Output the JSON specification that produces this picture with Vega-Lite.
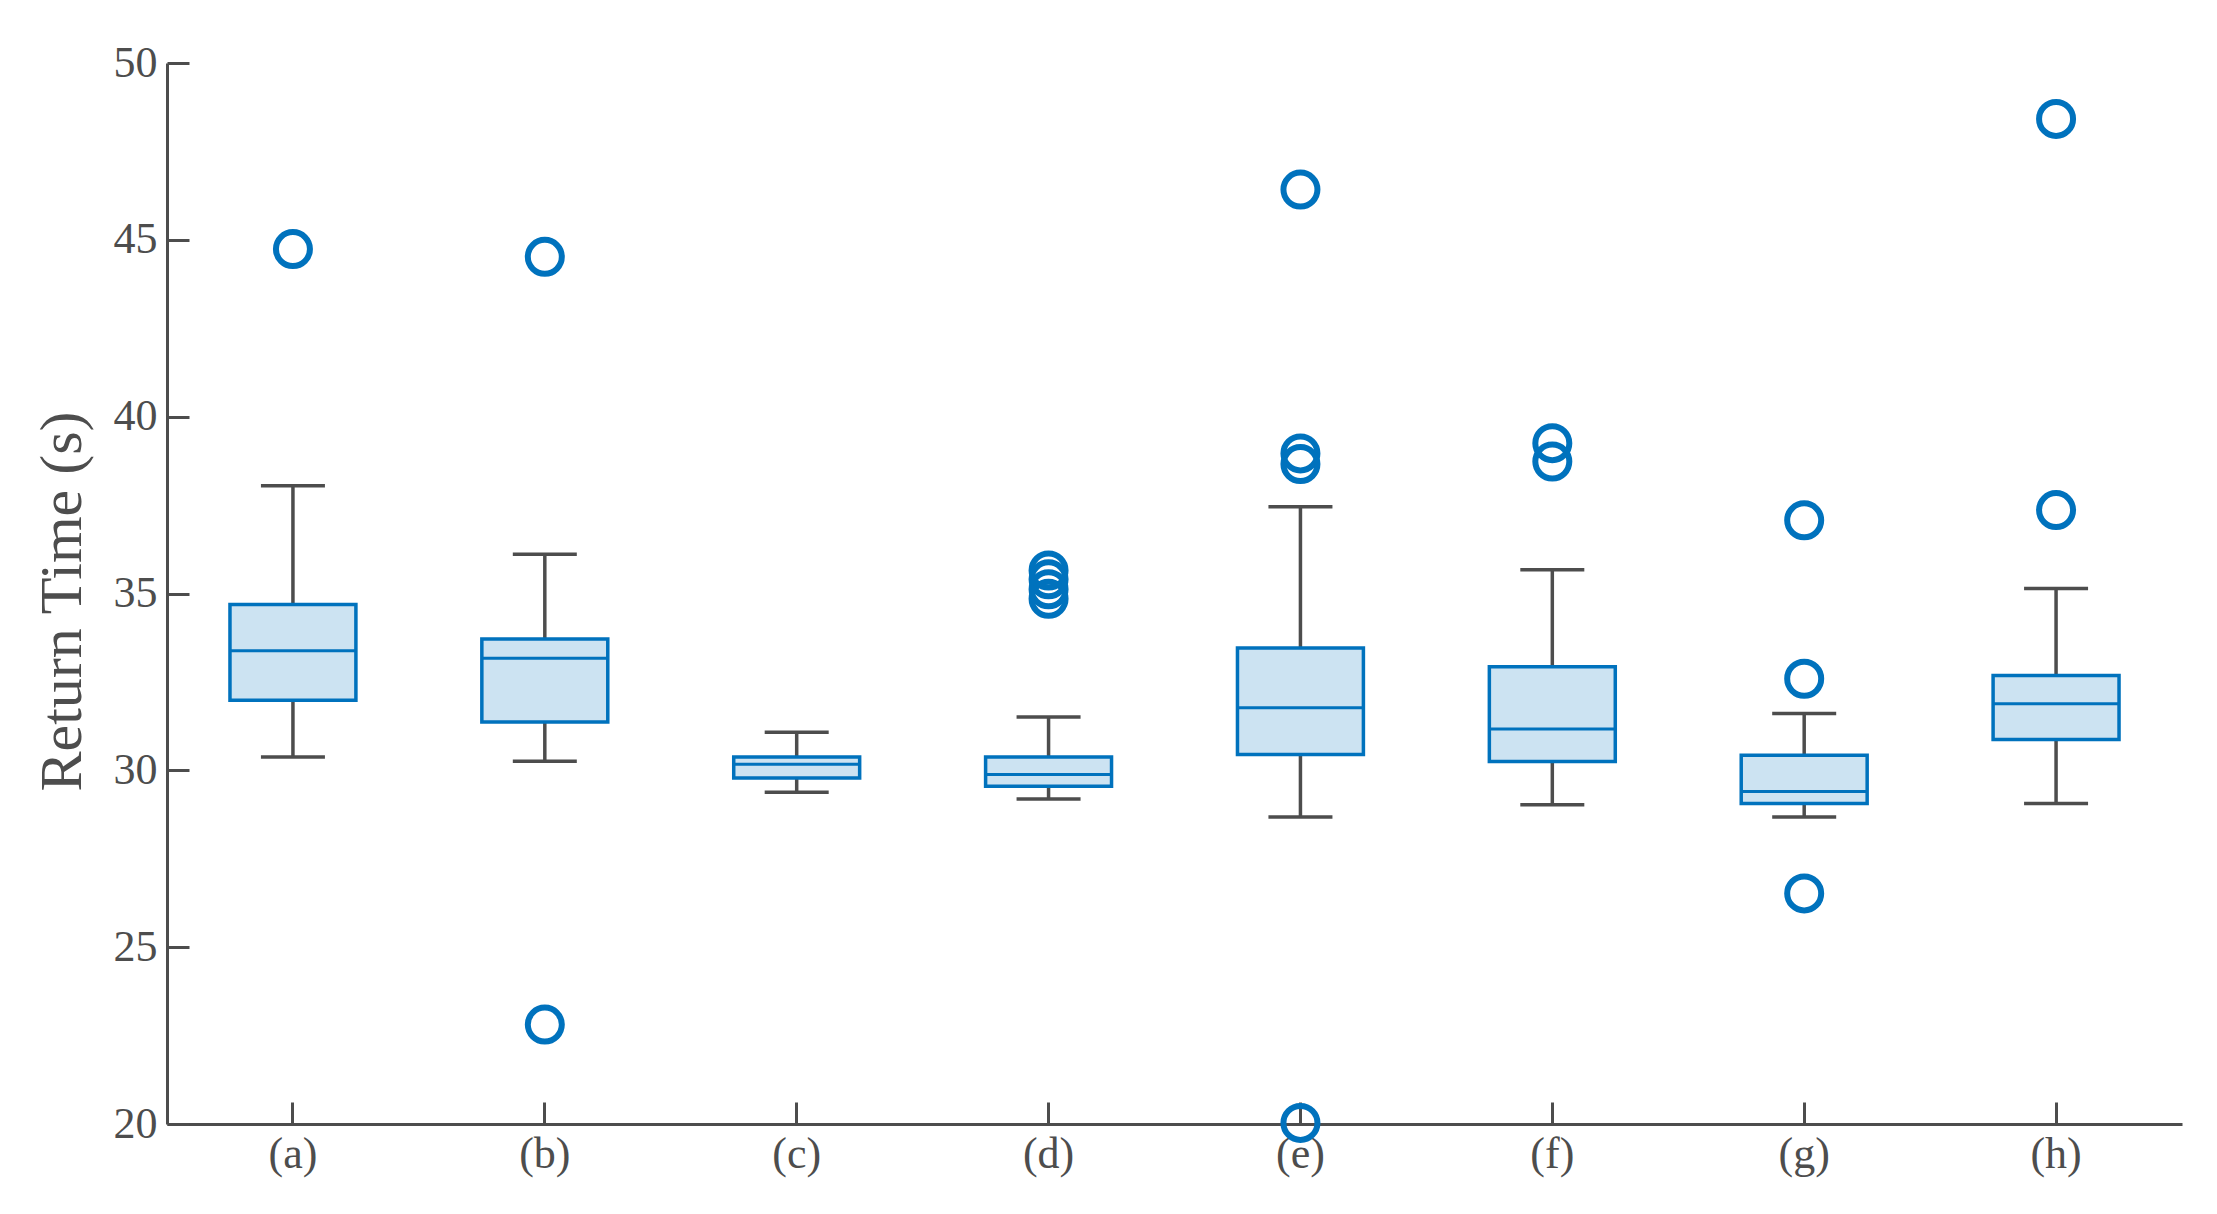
{
  "$schema": "https://vega.github.io/schema/vega-lite/v6.json",
  "autosize": {"type": "none"},
  "padding": {"left": 167, "top": 63, "right": 35, "bottom": 90},
  "width": 2015,
  "height": 1061,
  "background": "white",
  "datasets": {
    "boxes": [
      {"cat": "(a)", "lower": 30.38, "q1": 31.98, "median": 33.38, "q3": 34.69, "upper": 38.05},
      {"cat": "(b)", "lower": 30.26, "q1": 31.37, "median": 33.17, "q3": 33.71, "upper": 36.11},
      {"cat": "(c)", "lower": 29.38, "q1": 29.78, "median": 30.17, "q3": 30.38, "upper": 31.08},
      {"cat": "(d)", "lower": 29.19, "q1": 29.55, "median": 29.88, "q3": 30.38, "upper": 31.51},
      {"cat": "(e)", "lower": 28.68, "q1": 30.45, "median": 31.77, "q3": 33.46, "upper": 37.45},
      {"cat": "(f)", "lower": 29.03, "q1": 30.25, "median": 31.17, "q3": 32.93, "upper": 35.67},
      {"cat": "(g)", "lower": 28.68, "q1": 29.06, "median": 29.4, "q3": 30.43, "upper": 31.61},
      {"cat": "(h)", "lower": 29.06, "q1": 30.87, "median": 31.88, "q3": 32.68, "upper": 35.14}
    ],
    "outliers": [
      {"cat": "(a)", "value": 44.74},
      {"cat": "(b)", "value": 44.52},
      {"cat": "(b)", "value": 22.81},
      {"cat": "(d)", "value": 35.65},
      {"cat": "(d)", "value": 35.4},
      {"cat": "(d)", "value": 35.12},
      {"cat": "(d)", "value": 34.85},
      {"cat": "(e)", "value": 46.42},
      {"cat": "(e)", "value": 38.96},
      {"cat": "(e)", "value": 38.66},
      {"cat": "(e)", "value": 20.03},
      {"cat": "(f)", "value": 39.25},
      {"cat": "(f)", "value": 38.73},
      {"cat": "(g)", "value": 37.07},
      {"cat": "(g)", "value": 32.59},
      {"cat": "(g)", "value": 26.52},
      {"cat": "(h)", "value": 48.42},
      {"cat": "(h)", "value": 37.36}
    ]
  },
  "encoding": {
    "x": {
      "field": "cat",
      "type": "nominal",
      "sort": null,
      "scale": {"type": "band", "paddingInner": 0, "paddingOuter": 0},
      "axis": {
        "title": null,
        "labelAngle": 0,
        "tickSize": -22,
        "labelPadding": 30,
        "labelFontSize": 44
      }
    }
  },
  "layer": [
    {
      "data": {"name": "boxes"},
      "mark": {"type": "rule", "color": "#4d4d4d", "strokeWidth": 3.5},
      "encoding": {
        "y": {
          "field": "lower",
          "type": "quantitative",
          "scale": {"domain": [20, 50], "nice": false, "zero": false},
          "axis": {
            "title": "Return Time (s)",
            "values": [20, 25, 30, 35, 40, 45, 50],
            "tickSize": -22,
            "labelPadding": 32,
            "labelFontSize": 44,
            "titleFontSize": 60,
            "titleX": -74,
            "titleY": 538,
            "titleAngle": 270,
            "titleAlign": "center",
            "titleBaseline": "bottom"
          }
        },
        "y2": {"field": "q1"}
      }
    },
    {
      "data": {"name": "boxes"},
      "mark": {"type": "rule", "color": "#4d4d4d", "strokeWidth": 3.5},
      "encoding": {
        "y": {"field": "q3", "type": "quantitative"},
        "y2": {"field": "upper"}
      }
    },
    {
      "data": {"name": "boxes"},
      "mark": {"type": "tick", "color": "#4d4d4d", "size": 64, "thickness": 3.5, "opacity": 1},
      "encoding": {"y": {"field": "lower", "type": "quantitative"}}
    },
    {
      "data": {"name": "boxes"},
      "mark": {"type": "tick", "color": "#4d4d4d", "size": 64, "thickness": 3.5, "opacity": 1},
      "encoding": {"y": {"field": "upper", "type": "quantitative"}}
    },
    {
      "data": {"name": "boxes"},
      "mark": {"type": "bar", "fill": "#CCE3F2", "stroke": "#0072BD", "strokeWidth": 3.5, "width": {"band": 0.5}, "opacity": 1},
      "encoding": {
        "y": {"field": "q1", "type": "quantitative"},
        "y2": {"field": "q3"}
      }
    },
    {
      "data": {"name": "boxes"},
      "mark": {"type": "tick", "color": "#0072BD", "size": 126, "thickness": 3, "opacity": 1},
      "encoding": {"y": {"field": "median", "type": "quantitative"}}
    },
    {
      "data": {"name": "outliers"},
      "mark": {"type": "point", "shape": "circle", "filled": false, "stroke": "#0072BD", "strokeWidth": 6, "size": 1156, "opacity": 1},
      "encoding": {"y": {"field": "value", "type": "quantitative"}}
    }
  ],
  "config": {
    "view": {"stroke": null},
    "font": "Liberation Serif",
    "axis": {
      "grid": false,
      "domainColor": "#4d4d4d",
      "domainWidth": 3,
      "tickColor": "#4d4d4d",
      "tickWidth": 3,
      "labelColor": "#4d4d4d",
      "titleColor": "#4d4d4d",
      "labelFont": "Liberation Serif",
      "titleFont": "Liberation Serif",
      "titleFontWeight": "normal"
    }
  }
}
